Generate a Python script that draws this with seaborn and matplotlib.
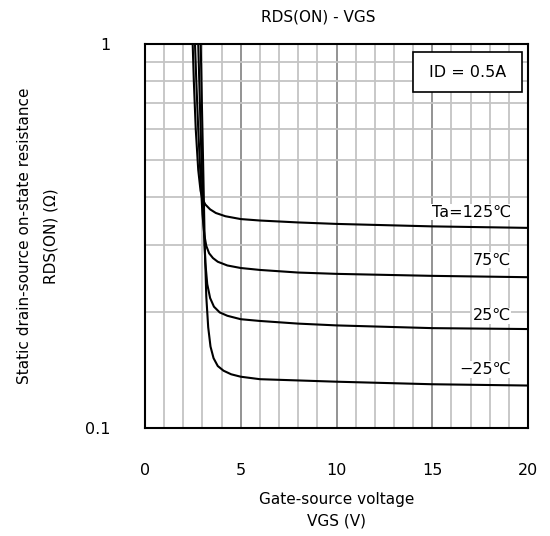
import numpy as np
import pandas as pd
import matplotlib
matplotlib.use("Agg")
import matplotlib.pyplot as plt
import seaborn as sns
from matplotlib.ticker import FixedLocator, NullFormatter, NullLocator

sns.set_style("white")
plt.rcParams['font.family'] = ['DejaVu Sans', 'Noto Sans CJK JP']
plt.rcParams['text.color'] = 'black'
plt.rcParams['axes.labelcolor'] = 'black'
plt.rcParams['xtick.color'] = 'black'
plt.rcParams['ytick.color'] = 'black'

# data
x_125 = [2.49, 2.55, 2.65, 2.78, 2.9, 3.0, 3.15, 3.4, 3.7, 4.2, 5, 6, 8, 10, 15, 20]
y_125 = [1.0, 0.8, 0.6, 0.47, 0.415, 0.395, 0.382, 0.371, 0.363, 0.356, 0.350, 0.347, 0.343, 0.340, 0.335, 0.332]
x_75 = [2.61, 2.68, 2.78, 2.9, 3.0, 3.1, 3.2, 3.35, 3.55, 3.8, 4.3, 5, 6, 8, 10, 15, 20]
y_75 = [1.0, 0.8, 0.6, 0.45, 0.36, 0.318, 0.298, 0.285, 0.277, 0.271, 0.265, 0.261, 0.258, 0.254, 0.252, 0.249, 0.247]
x_25 = [2.78, 2.85, 2.95, 3.05, 3.15, 3.25, 3.4, 3.6, 3.9, 4.3, 5, 6, 8, 10, 15, 20]
y_25 = [1.0, 0.75, 0.5, 0.35, 0.27, 0.237, 0.218, 0.207, 0.200, 0.196, 0.192, 0.19, 0.187, 0.185, 0.182, 0.181]
x_m25 = [2.91, 2.97, 3.05, 3.12, 3.2, 3.3, 3.42, 3.58, 3.8, 4.1, 4.5, 5, 6, 8, 10, 15, 20]
y_m25 = [1.0, 0.7, 0.45, 0.3, 0.22, 0.183, 0.163, 0.152, 0.145, 0.141, 0.138, 0.136, 0.134, 0.133, 0.132, 0.13, 0.129]

series_labels = ["Ta=125℃", "75℃", "25℃", "−25℃"]
label_y = [0.365, 0.274, 0.196, 0.142]
x_ticks = [0, 5, 10, 15, 20]
y_ticks = [0.1, 1]
y_ticklabels = ["0.1", "1"]

frames = []
for name, xs, ys in zip(series_labels, [x_125, x_75, x_25, x_m25], [y_125, y_75, y_25, y_m25]):
    frames.append(pd.DataFrame({"VGS": xs, "RDS": ys, "T": name}))
df = pd.concat(frames, ignore_index=True)

fig = plt.figure(figsize=(5.5, 5.36), dpi=100)
ax = fig.add_axes([145/550, (536-428)/536, 383/550, 384/536])
ax.set_yscale("log")
ax.set_xlim(0, 20)
ax.set_ylim(0.1, 1)

# grid
for v in range(1, 20):
    c = "#8a8a8a" if v % 5 == 0 else "#c4c4c4"
    ax.axvline(v, color=c, lw=1.3, zorder=0)
for v in [0.2, 0.3, 0.4, 0.5, 0.6, 0.7, 0.8, 0.9]:
    ax.axhline(v, color="#c4c4c4", lw=1.3, zorder=0)

sns.lineplot(data=df, x="VGS", y="RDS", units="T", estimator=None, sort=False,
             color="black", lw=1.5, ax=ax, legend=False)

for lab, yv in zip(series_labels, label_y):
    ax.text(19.1, yv, lab, ha="right", va="center", fontsize=11.5, color="black",
            bbox=dict(facecolor="white", edgecolor="none", pad=0.5), zorder=3)

ax.add_patch(plt.Rectangle((0.7, 0.875), 0.285, 0.104, transform=ax.transAxes,
                           facecolor="white", edgecolor="black", lw=1.2, zorder=3))
ax.text(0.8425, 0.927, "ID = 0.5A", transform=ax.transAxes, ha="center", va="center",
        fontsize=11.5, color="black", zorder=4)

ax.xaxis.set_major_locator(FixedLocator(x_ticks))
ax.set_xticklabels([str(t) for t in x_ticks], fontsize=11.5)
ax.yaxis.set_major_locator(FixedLocator(y_ticks))
ax.yaxis.set_minor_locator(NullLocator())
ax.yaxis.set_minor_formatter(NullFormatter())
ax.set_yticklabels(y_ticklabels, fontsize=11.5)
ax.tick_params(axis="x", length=0, pad=25)
ax.tick_params(axis="y", length=0, pad=25)

ax.set_xlabel("Gate-source voltage\nVGS (V)", fontsize=11, labelpad=10, linespacing=1.55)
ax.set_ylabel("Static drain-source on-state resistance\nRDS(ON) (Ω)", fontsize=11,
              labelpad=19, linespacing=1.95)

for s in ax.spines.values():
    s.set_color("black")
    s.set_linewidth(1.5)
    s.set_visible(True)
    s.set_zorder(5)

fig.text(318/550, 1 - 17/536, "RDS(ON) - VGS", ha="center", va="center", fontsize=11,
         color="black")

fig.savefig("out.png", dpi=100, facecolor="white")
